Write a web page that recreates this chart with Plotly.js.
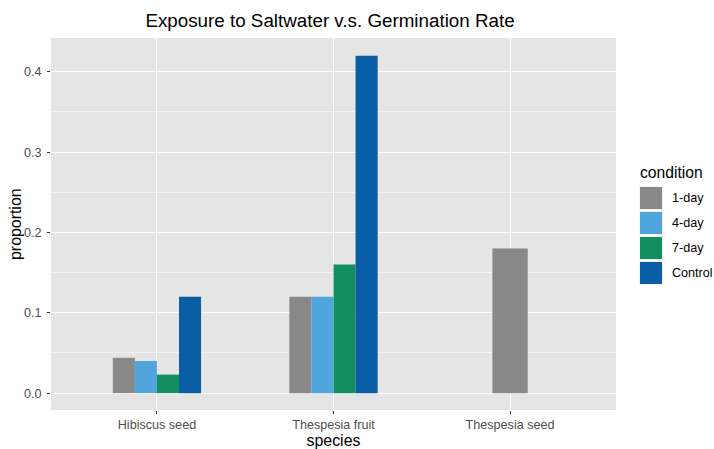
<!DOCTYPE html>
<html>
<head>
<meta charset="utf-8">
<script src="https://cdn.plot.ly/plotly-3.0.1.min.js"></script>
<style>html,body{margin:0;padding:0;background:#fff;}#chart{width:714px;height:449px;}</style>
</head>
<body>
<div id="chart"></div>
<script>
// Data
const species = ["Hibiscus seed", "Thespesia fruit", "Thespesia seed"];
const conditions = ["1-day", "4-day", "7-day", "Control"];
const day1 = [0.044, 0.12, 0.18];
const day4 = [0.04, 0.12, null];
const day7 = [0.023, 0.16, null];
const control = [0.12, 0.42, null];
const yTicks = [0.0, 0.1, 0.2, 0.3, 0.4];

const seriesVals = [day1, day4, day7, control];
const colors = ["#888888", "#50a5dc", "#138f5f", "#0a5ea6"];

// dodge layout like ggplot: each category group shares width 0.5 among present bars
const groupWidth = 0.5;
const traces = [];
conditions.forEach((cond, ci) => {
  const xs = [], ys = [], ws = [], offs = [];
  species.forEach((sp, si) => {
    const v = seriesVals[ci][si];
    if (v === null) return;
    const present = seriesVals.map(s => s[si]).map((val, k) => val !== null ? k : -1).filter(k => k >= 0);
    const n = present.length;
    let w, off;
    if (n === 1) { w = 0.2; off = -0.1; }
    else { w = groupWidth / n; off = -groupWidth / 2 + present.indexOf(ci) * w; }
    xs.push(sp); ys.push(v); ws.push(w); offs.push(off);
  });
  traces.push({
    type: "bar", name: cond, x: xs, y: ys, width: ws, offset: offs,
    marker: {color: colors[ci], line: {color: colors[ci], width: 0}},
    showlegend: false, hoverinfo: "x+y+name"
  });
});

// manual ggplot-style legend (pixel geometry mapped to paper coords)
const L = 51, R = 616, T = 38, B = 410;
const px = x => (x - L) / (R - L);
const py = y => (B - y) / (B - T);
const shapes = [];
const annotations = [];
annotations.push({xref: "paper", yref: "paper", x: px(638), y: py(172), xanchor: "left", yanchor: "middle",
  text: "condition", showarrow: false, font: {size: 15.7, color: "#000"}});
conditions.forEach((cond, ci) => {
  const y0 = 186.5 + ci * 25;
  shapes.push({type: "rect", xref: "paper", yref: "paper", x0: px(639.5), x1: px(662.5), y0: py(y0), y1: py(y0 + 23),
    fillcolor: colors[ci], line: {color: "#f2f2f2", width: 1}});
  annotations.push({xref: "paper", yref: "paper", x: px(670), y: py(y0 + 11.5), xanchor: "left", yanchor: "middle",
    text: cond, showarrow: false, font: {size: 12.6, color: "#000"}});
});
// y-axis title placed like ggplot
annotations.push({xref: "paper", yref: "paper", x: px(15), y: 0.5, xanchor: "center", yanchor: "middle",
  textangle: -90, text: "proportion", showarrow: false, font: {size: 15.9, color: "#000"}});

const layout = {
  width: 714, height: 449,
  margin: {l: L, r: 714 - R, t: T, b: 449 - B, pad: 0},
  paper_bgcolor: "#ffffff", plot_bgcolor: "#e5e5e5",
  font: {family: "Liberation Sans, Arial, sans-serif", color: "#4d4d4d"},
  title: {text: "Exposure to Saltwater v.s. Germination Rate", x: 330 / 714, xanchor: "center",
    y: 1 - 20 / 449, yanchor: "middle", font: {size: 18.8, color: "#000"}},
  barmode: "overlay",
  showlegend: false,
  xaxis: {
    type: "category", categoryarray: species, range: [-0.6, 2.6],
    showgrid: true, gridcolor: "#ffffff", gridwidth: 1.1, zeroline: false,
    ticks: "outside", ticklen: 3, tickcolor: "#333333", tickwidth: 1.1,
    tickfont: {size: 12.6, color: "#4d4d4d"}, showline: false,
    title: {text: "species", font: {size: 15.9, color: "#000"}, standoff: 2}
  },
  yaxis: {
    range: [-0.021, 0.442], tickvals: yTicks, ticktext: yTicks.map(v => v.toFixed(1)),
    showgrid: true, gridcolor: "#ffffff", gridwidth: 1.1, zeroline: false,
    minor: {showgrid: true, gridcolor: "#ffffff", gridwidth: 0.5, tickvals: [0.05, 0.15, 0.25, 0.35]},
    ticks: "outside", ticklen: 3, tickcolor: "#333333", tickwidth: 1.1,
    ticklabelstandoff: 3,
    tickfont: {size: 12.6, color: "#4d4d4d"}, showline: false
  },
  shapes: shapes,
  annotations: annotations
};

Plotly.newPlot("chart", traces, layout, {displayModeBar: false, staticPlot: true});
</script>
</body>
</html>
